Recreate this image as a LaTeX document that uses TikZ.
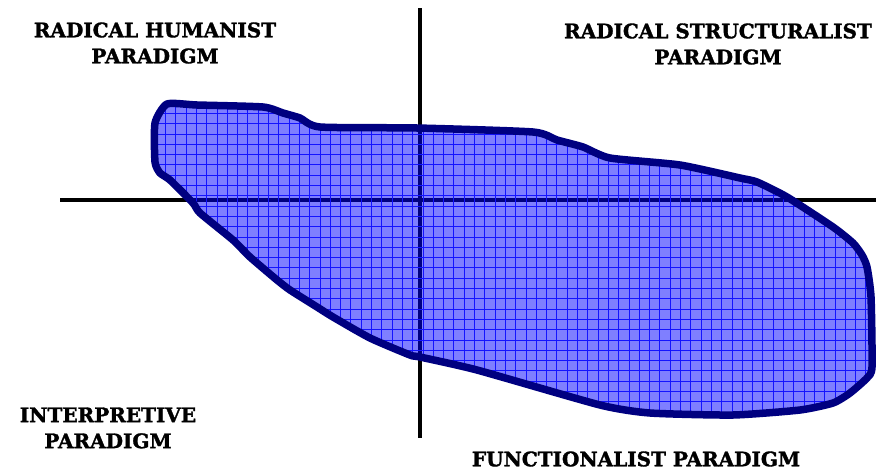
\documentclass[tikz,border=0pt]{standalone}
\usepackage{fontspec}
\setmainfont{DejaVu Serif}
\newfontfamily\paradigmfont[FakeBold=1.6]{DejaVu Serif Bold}
\usepackage{xcolor}
\usetikzlibrary{positioning}

\definecolor{blobline}{RGB}{0,0,128}
\definecolor{blobgrid}{RGB}{20,20,255}

\begin{document}
\begin{tikzpicture}[
  x=1pt, y=-1pt,
  paradigm/.style={align=center, font=\paradigmfont\fontsize{20}{26}\selectfont, inner sep=0pt},
  axis/.style={line width=4pt, draw=black},
  blobfill/.style={fill=blue, fill opacity=0.5},
  blobgridline/.style={draw=blobgrid, line width=0.8pt},
  blob/.style={draw=blobline, line width=7.5pt, line join=round}
]
  \useasboundingbox (0,0) rectangle (878,472);

  % Axes
  \coordinate (ax_left) at (60,200);
  \coordinate (ax_right) at (876,200);
  \coordinate (ax_top) at (420,8);
  \coordinate (ax_bottom) at (420,438);
  \draw[axis] (ax_left) -- (ax_right);
  \draw[axis] (ax_top) -- (ax_bottom);

  % Region outline
  \def\blobpath{plot[smooth cycle, tension=0.35] coordinates {
    (167,104) (197,105) (263,107) (283,113) (300,118) (320,127) (417,128)
    (533,132) (557,140) (583,147) (610,158) (680,165) (740,178) (757,182)
    (787,197) (833,227) (853,243) (862,255) (867,267) (871,297) (872,367)
    (867,378) (850,393) (833,403) (800,410) (733,415) (650,413) (600,405)
    (477,370) (420,357) (410,355) (370,338) (333,317) (317,307) (290,290)
    (277,280) (250,257) (233,240) (200,213) (193,203) (170,180) (160,173)
    (155,162) (155,123)}}

  \begin{scope}
    \clip \blobpath;
    \fill[blobfill] (140,90) rectangle (880,425);
    \foreach \k in {0,...,72} {
      \draw[blobgridline] (\k*10.3+144.8,90) -- (\k*10.3+144.8,425);
    }
    \foreach \k in {0,...,33} {
      \draw[blobgridline] (140,\k*10.3+92.7) -- (880,\k*10.3+92.7);
    }
  \end{scope}
  \draw[blob] \blobpath;

  % Paradigm labels
  \node[paradigm] (humanist) at (155,43) {RADICAL HUMANIST\\PARADIGM};
  \node[paradigm] (structuralist) at (718,44) {RADICAL STRUCTURALIST\\PARADIGM};
  \node[paradigm] (interpretive) at (108,428) {INTERPRETIVE\\PARADIGM};
  \node[paradigm] (functionalist) at (636,459) {FUNCTIONALIST PARADIGM};

\end{tikzpicture}
\end{document}
